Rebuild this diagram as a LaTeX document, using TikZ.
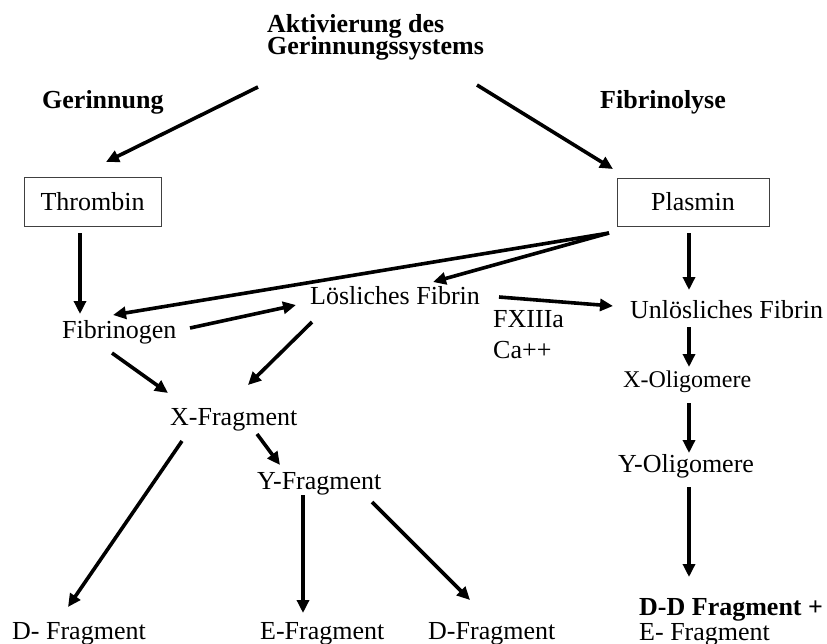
\documentclass[tikz,border=0pt]{standalone}
\usepackage{fontspec}
\setmainfont{Liberation Serif}
\usetikzlibrary{arrows.meta}
\begin{document}
\begin{tikzpicture}[x=1pt,y=-1pt,
  txt/.style={anchor=base west,inner sep=0pt,font=\fontsize{26}{31}\selectfont},
  bold/.style={txt,font=\fontsize{26}{22}\selectfont\bfseries},
  boxnode/.style={draw=black!75,line width=0.9pt,inner sep=0pt,font=\fontsize{26}{31}\selectfont},
  conn/.style={line width=3.6pt,-{Triangle[length=13pt,width=12pt]}}]
\useasboundingbox (0,0) rectangle (827,643);
% texts
\node[bold,align=left] (head) at (267,54) {Aktivierung des\\[-3pt]Gerinnungssystems};
\node[bold] (ger) at (42,108) {Gerinnung};
\node[bold] (fibly) at (600,108) {Fibrinolyse};
\node[boxnode,minimum width=137pt,minimum height=49pt] (thr) at (92.5,201.5) {Thrombin};
\node[boxnode,minimum width=152pt,minimum height=48pt] (pla) at (693,202) {Plasmin};
\node[txt] (fbg) at (62,338) {Fibrinogen};
\node[txt] (lf) at (310,304) {Lösliches Fibrin};
\node[txt] (uf) at (630,318) {Unlösliches Fibrin};
\node[txt,align=left] (fx) at (493,358) {FXIIIa\\Ca++};
\node[txt,font=\fontsize{24}{28}\selectfont] (xo) at (623,387) {X-Oligomere};
\node[txt] (yo) at (618,472) {Y-Oligomere};
\node[txt] (xf) at (170,425) {X-Fragment};
\node[txt] (yf) at (257,489) {Y-Fragment};
\node[txt] (dl) at (12,639) {D- Fragment};
\node[txt] (ef) at (260,639) {E-Fragment};
\node[txt] (dr) at (428,639) {D-Fragment};
\node[bold] (dd) at (639,615) {D-D Fragment +};
\node[txt] (efr) at (639,640) {E- Fragment};
% connector end points
\coordinate (head-l) at (258,87);   \coordinate (thr-in) at (106,162);
\coordinate (head-r) at (477,85);   \coordinate (pla-in) at (613,169);
\coordinate (thr-out) at (80,233);  \coordinate (fbg-top) at (80,314);
\coordinate (pla-out) at (609,233); \coordinate (fbg-in) at (113,315);
\coordinate (lf-in) at (433,282);
\coordinate (fbg-r) at (190,328);   \coordinate (lf-l) at (296,305);
\coordinate (lf-r) at (499,297);    \coordinate (uf-l) at (613,306);
\coordinate (pla-bot) at (689,233); \coordinate (uf-top) at (689,290);
\coordinate (uf-bot) at (689,327);  \coordinate (xo-top) at (689,367);
\coordinate (xo-bot) at (689,403);  \coordinate (yo-top) at (689,453);
\coordinate (yo-bot) at (689,487);  \coordinate (dd-top) at (689,577);
\coordinate (fbg-bot) at (112,353); \coordinate (xf-l) at (168,393);
\coordinate (lf-bot) at (312,322);  \coordinate (xf-r) at (248,385);
\coordinate (xf-bl) at (182,441);   \coordinate (dl-top) at (68,607);
\coordinate (xf-br) at (257,434);   \coordinate (yf-top) at (280,465);
\coordinate (yf-bot) at (303,495);  \coordinate (ef-top) at (303,613);
\coordinate (yf-br) at (372,502);   \coordinate (dr-top) at (470,600);
% connectors
\draw[conn] (head-l) -- (thr-in);
\draw[conn] (head-r) -- (pla-in);
\draw[conn] (thr-out) -- (fbg-top);
\draw[conn] (pla-out) -- (fbg-in);
\draw[conn] (pla-out) -- (lf-in);
\draw[conn] (fbg-r) -- (lf-l);
\draw[conn] (lf-r) -- (uf-l);
\draw[conn] (pla-bot) -- (uf-top);
\draw[conn] (uf-bot) -- (xo-top);
\draw[conn] (xo-bot) -- (yo-top);
\draw[conn] (yo-bot) -- (dd-top);
\draw[conn] (fbg-bot) -- (xf-l);
\draw[conn] (lf-bot) -- (xf-r);
\draw[conn] (xf-bl) -- (dl-top);
\draw[conn] (xf-br) -- (yf-top);
\draw[conn] (yf-bot) -- (ef-top);
\draw[conn] (yf-br) -- (dr-top);
\end{tikzpicture}
\end{document}
